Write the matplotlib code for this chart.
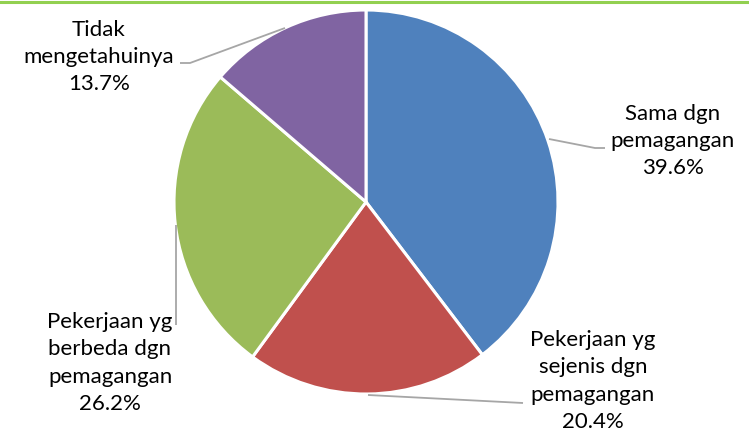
import matplotlib.pyplot as plt

# slice data (clockwise from top)
labels = ['Sama dgn\npemagangan', 'Pekerjaan yg\nsejenis dgn\npemagangan',
          'Pekerjaan yg\nberbeda dgn\npemagangan', 'Tidak\nmengetahuinya']
values = [39.6, 20.4, 26.2, 13.7]
colors = ['#4F81BD', '#C0504D', '#9BBB59', '#8064A2']

W, H = 749, 433
fig = plt.figure(figsize=(W / 100, H / 100), dpi=100)
ax = fig.add_axes([0, 0, 1, 1])

def Y(y):
    # convert from top-down pixel y to axes y
    return H - y

cx, cy, r = 366, 202, 192
ax.pie(values, colors=colors, startangle=90, counterclock=False,
       center=(cx, Y(cy)), radius=r, frame=True,
       wedgeprops=dict(edgecolor='white', linewidth=2.2))
ax.set_xlim(0, W)
ax.set_ylim(0, H)
ax.set_aspect('equal')
ax.axis('off')

# label positions and leader lines (pixel coords, top-down)
label_pos = [(673, 141), (593, 381), (110, 363), (99, 57)]
leaders = [
    [(549, 139), (595, 148), (605, 148)],
    [(368, 395), (523, 403)],
    [(176, 225), (176, 325)],
    [(285, 28), (190, 63), (180, 63)],
]

for lab, v, (tx, ty), pts in zip(labels, values, label_pos, leaders):
    ax.text(tx, Y(ty), f'{lab}\n{v:.1f}%', ha='center', va='center',
            fontsize=16, family=['Lato', 'DejaVu Sans'], color='black',
            linespacing=1.45)
    xs = [p[0] for p in pts]
    ys = [Y(p[1]) for p in pts]
    ax.plot(xs, ys, color='#A6A6A6', lw=1.3, solid_capstyle='butt')

# thin green rule across the top
fig.add_artist(plt.Line2D([0, 1], [1 - 1.5 / H, 1 - 1.5 / H], color='#92D050', lw=2.2,
                          transform=fig.transFigure))

fig.savefig('out.png', dpi=100)
